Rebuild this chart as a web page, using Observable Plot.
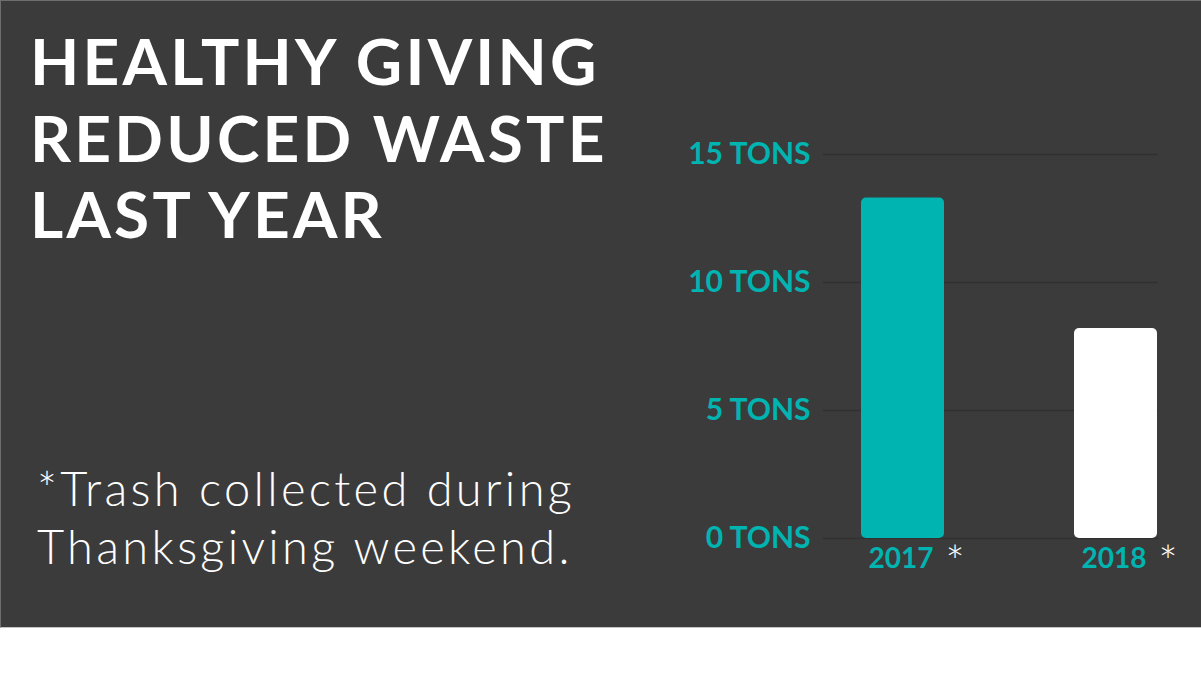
<!DOCTYPE html>
<html>
<head>
<meta charset="utf-8">
<script src="https://cdn.jsdelivr.net/npm/d3@7"></script>
<script src="https://cdn.jsdelivr.net/npm/@observablehq/plot@0.6"></script>
<style>
  html, body { margin: 0; padding: 0; background: #ffffff; }
  #panel {
    position: relative; width: 1201px; height: 628px; background: #3b3b3b;
    box-sizing: border-box; border-top: 1px solid #6e6e6e; border-left: 1px solid #6e6e6e;
    border-bottom: 1px solid #c4c4c4; overflow: hidden;
  }
  #title {
    position: absolute; left: 29px; top: 22px; margin: 0; white-space: nowrap;
    font-family: Lato, sans-serif; font-weight: 700; font-size: 64px; line-height: 76.5px;
    letter-spacing: 3.2px; color: #ffffff;
  }
  #note {
    position: absolute; left: 36px; top: 458px; margin: 0; white-space: nowrap;
    font-family: Lato, sans-serif; font-weight: 300; font-size: 47px; line-height: 58px;
    letter-spacing: 3.3px; color: #ffffff;
  }
  #chart { position: absolute; left: -1px; top: -1px; }
  #chart svg { overflow: visible; }
</style>
</head>
<body>
<div id="panel">
  <div id="chart"></div>
  <div id="title">HEALTHY GIVING<br>REDUCED WASTE<br>LAST YEAR</div>
  <div id="note">*Trash collected during<br>Thanksgiving weekend.</div>
</div>
<script>
const years = ["2017", "2018"];
const tons = [13.3, 8.2];
const barColors = ["#00b4b1", "#ffffff"];
const yTicks = [0, 5, 10, 15];
const tickSuffix = " TONS";
const footMark = "*";

const data = years.map((y, i) => ({year: y, tons: tons[i], color: barColors[i]}));
const teal = "#00b4b1";

const plot = Plot.plot({
  width: 1201,
  height: 628,
  marginLeft: 823,
  marginRight: 43,
  marginTop: 154,
  marginBottom: 90,
  style: {background: "transparent", fontFamily: "Lato, sans-serif", overflow: "visible"},
  x: {domain: years, paddingInner: 0.61, paddingOuter: 0.09, align: 0.97},
  y: {domain: [0, 15]},
  color: {type: "identity"},
  marks: [
    Plot.ruleY(yTicks, {stroke: "#303030", strokeWidth: 1.5}),
    Plot.barY(data, {x: "year", y: "tons", fill: "color", rx: 5}),
    Plot.axisY(yTicks, {
      tickSize: 0, tickPadding: 13, tickFormat: d => d + tickSuffix,
      fill: teal, fontSize: 30, fontWeight: 700, label: null
    }),
    Plot.axisX({
      tickSize: 0, tickPadding: 10, dx: -2, fill: teal, fontSize: 28, fontWeight: 700, label: null
    }),
    Plot.text(years, {
      x: d => d, y: () => 0, text: () => footMark, dx: 52, dy: 25,
      fill: "#ffffff", fontSize: 46, fontWeight: 300
    })
  ]
});
document.getElementById("chart").appendChild(plot);
</script>
</body>
</html>
